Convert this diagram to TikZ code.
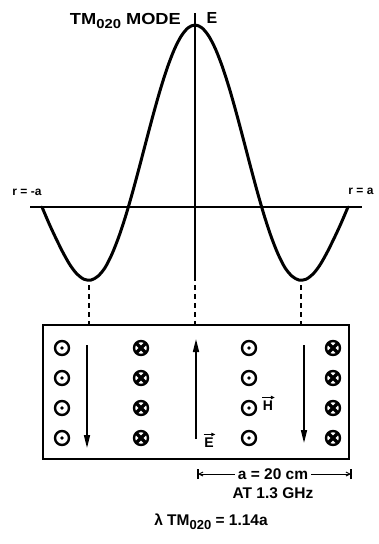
\documentclass[tikz,border=0pt]{standalone}
\usepackage{fontspec}
\setmainfont{Liberation Sans}
\usetikzlibrary{arrows.meta}
\begin{document}
\begin{tikzpicture}[x=1pt,y=-1pt,
  lbl/.style={font=\fontsize{16}{16}\selectfont\bfseries, inner sep=0pt},
  blbl/.style={font=\fontsize{15.5}{15.5}\selectfont\bfseries, inner sep=0pt},
  vlbl/.style={font=\fontsize{14}{14}\selectfont\bfseries, inner sep=0pt},
  small/.style={font=\fontsize{12}{12}\selectfont\bfseries, inner sep=0pt},
  curve/.style={line width=3pt, line join=round, line cap=round},
  baseln/.style={line width=2.4pt},
  axln/.style={line width=1.4pt},
  guide/.style={line width=1.6pt, dash pattern=on 5pt off 4pt},
  boxst/.style={draw, line width=2pt, inner sep=0pt, minimum width=306pt, minimum height=134pt},
  dotc/.style={circle, draw, line width=2.4pt, minimum size=14pt, inner sep=0pt,
    path picture={\fill (path picture bounding box.center) circle (1.9pt);}},
  crossc/.style={circle, draw, line width=2.4pt, minimum size=14pt, inner sep=0pt,
    path picture={\draw[line width=3.4pt] (path picture bounding box.north west) -- (path picture bounding box.south east)
      (path picture bounding box.north east) -- (path picture bounding box.south west);}},
  field/.style={line width=1.5pt, -{Triangle[length=13pt,width=6pt]}},
  vecar/.style={line width=1pt, -{Triangle[length=4pt,width=3.5pt]}},
  dimar/.style={line width=1pt, -{Straight Barb[length=4pt,width=4pt]}},
  tick/.style={line width=1.4pt}
]
\useasboundingbox[fill=white] (0,0) rectangle (379,544);

% axes
\coordinate (axTop) at (195,13);
\coordinate (axBot) at (195,281);
\draw[axln] (axTop) -- (axBot);
\coordinate (bL) at (30,207);
\coordinate (bR) at (362,207);
\draw[baseln] (bL) -- (bR);

% E(r) curve (J0 shape)
\draw[curve] plot[smooth] coordinates {
(42,207) (49.49,224.54) (56.41,239.32) (63.34,253.24) (70.27,265.34) (77.20,274.23)
(84.13,279.28) (91.06,280.05) (97.99,276.18) (104.92,267.85) (111.85,254.33) (118.78,236.81)
(125.71,215.81) (132.64,191.94) (139.57,166.25) (146.49,139.84) (153.42,113.85) (160.35,89.44)
(167.28,67.73) (174.21,49.71) (181.14,36.20) (188.07,27.83) (195,25)
(201.93,27.83) (208.86,36.20) (215.79,49.71) (222.72,67.73) (229.65,89.44) (236.58,113.85)
(243.51,139.84) (250.43,166.25) (257.36,191.94) (264.29,215.81) (271.22,236.81) (278.15,254.33)
(285.08,267.85) (292.01,276.18) (298.94,280.05) (305.87,279.28) (312.80,274.23) (319.73,265.34)
(326.66,253.24) (333.59,239.32) (340.51,224.54) (348,207)};

% labels top
\node[lbl, anchor=base east] (mode) at (181,24) {\scalebox{1.14}[1]{TM\raisebox{-4pt}{\fontsize{13}{13}\selectfont 020} MODE}};
\node[lbl] (Etop) at (212,18) {E};
\node[small] (rL) at (27,192) {r = -a};
\node[small] (rR) at (361,191) {r = a};

% box
\node[boxst] (box) at (196,392) {};

% guides
\coordinate (mL) at (89,285);
\coordinate (mC) at (195,285);
\coordinate (mR) at (301,285);
\draw[guide] (mL) -- (mL |- box.north);
\draw[guide] (mC) -- (mC |- box.north);
\draw[guide] (mR) -- (mR |- box.north);

% H field symbols
\foreach \r [count=\i] in {348,378,408,438} {
  \node[dotc] (d1-\i) at (62,\r) {};
  \node[crossc] (c2-\i) at (141,\r) {};
  \node[dotc] (d3-\i) at (249,\r) {};
  \node[crossc] (c4-\i) at (333,\r) {};
}

% E field arrows
\coordinate (a1s) at (87,345);
\coordinate (a1e) at (87,448);
\coordinate (a2s) at (196,439);
\coordinate (a2e) at (196,339);
\coordinate (a3s) at (304,345);
\coordinate (a3e) at (304,443);
\draw[field] (a1s) -- (a1e);
\draw[field] (a2s) -- (a2e);
\draw[field] (a3s) -- (a3e);

\node[vlbl] (Evec) at (209,443) {E};
\node[vlbl] (Hvec) at (268,406) {H};
\draw[vecar] ([xshift=-0.5pt,yshift=3.5pt]Evec.north west) -- ([xshift=1.5pt,yshift=3.5pt]Evec.north east);
\draw[vecar] ([xshift=-0.5pt,yshift=3.5pt]Hvec.north west) -- ([xshift=1.5pt,yshift=3.5pt]Hvec.north east);

% dimension
\coordinate (dL) at (198,474);
\coordinate (dR) at (351,474);
\draw[tick] ([yshift=-5pt]dL) -- ([yshift=5pt]dL);
\draw[tick] ([yshift=-5pt]dR) -- ([yshift=5pt]dR);
\node[blbl] (dim) at (273,474) {a = 20 cm};
\draw[dimar] ([xshift=-3pt]dim.west) -- (dL);
\draw[dimar] ([xshift=3pt]dim.east) -- (dR);
\node[blbl] (freq) at (273,493) {AT 1.3 GHz};
\node[blbl] (lam) at (211,522) {λ TM\raisebox{-4pt}{\fontsize{13}{13}\selectfont 020} = 1.14a};
\end{tikzpicture}
\end{document}
